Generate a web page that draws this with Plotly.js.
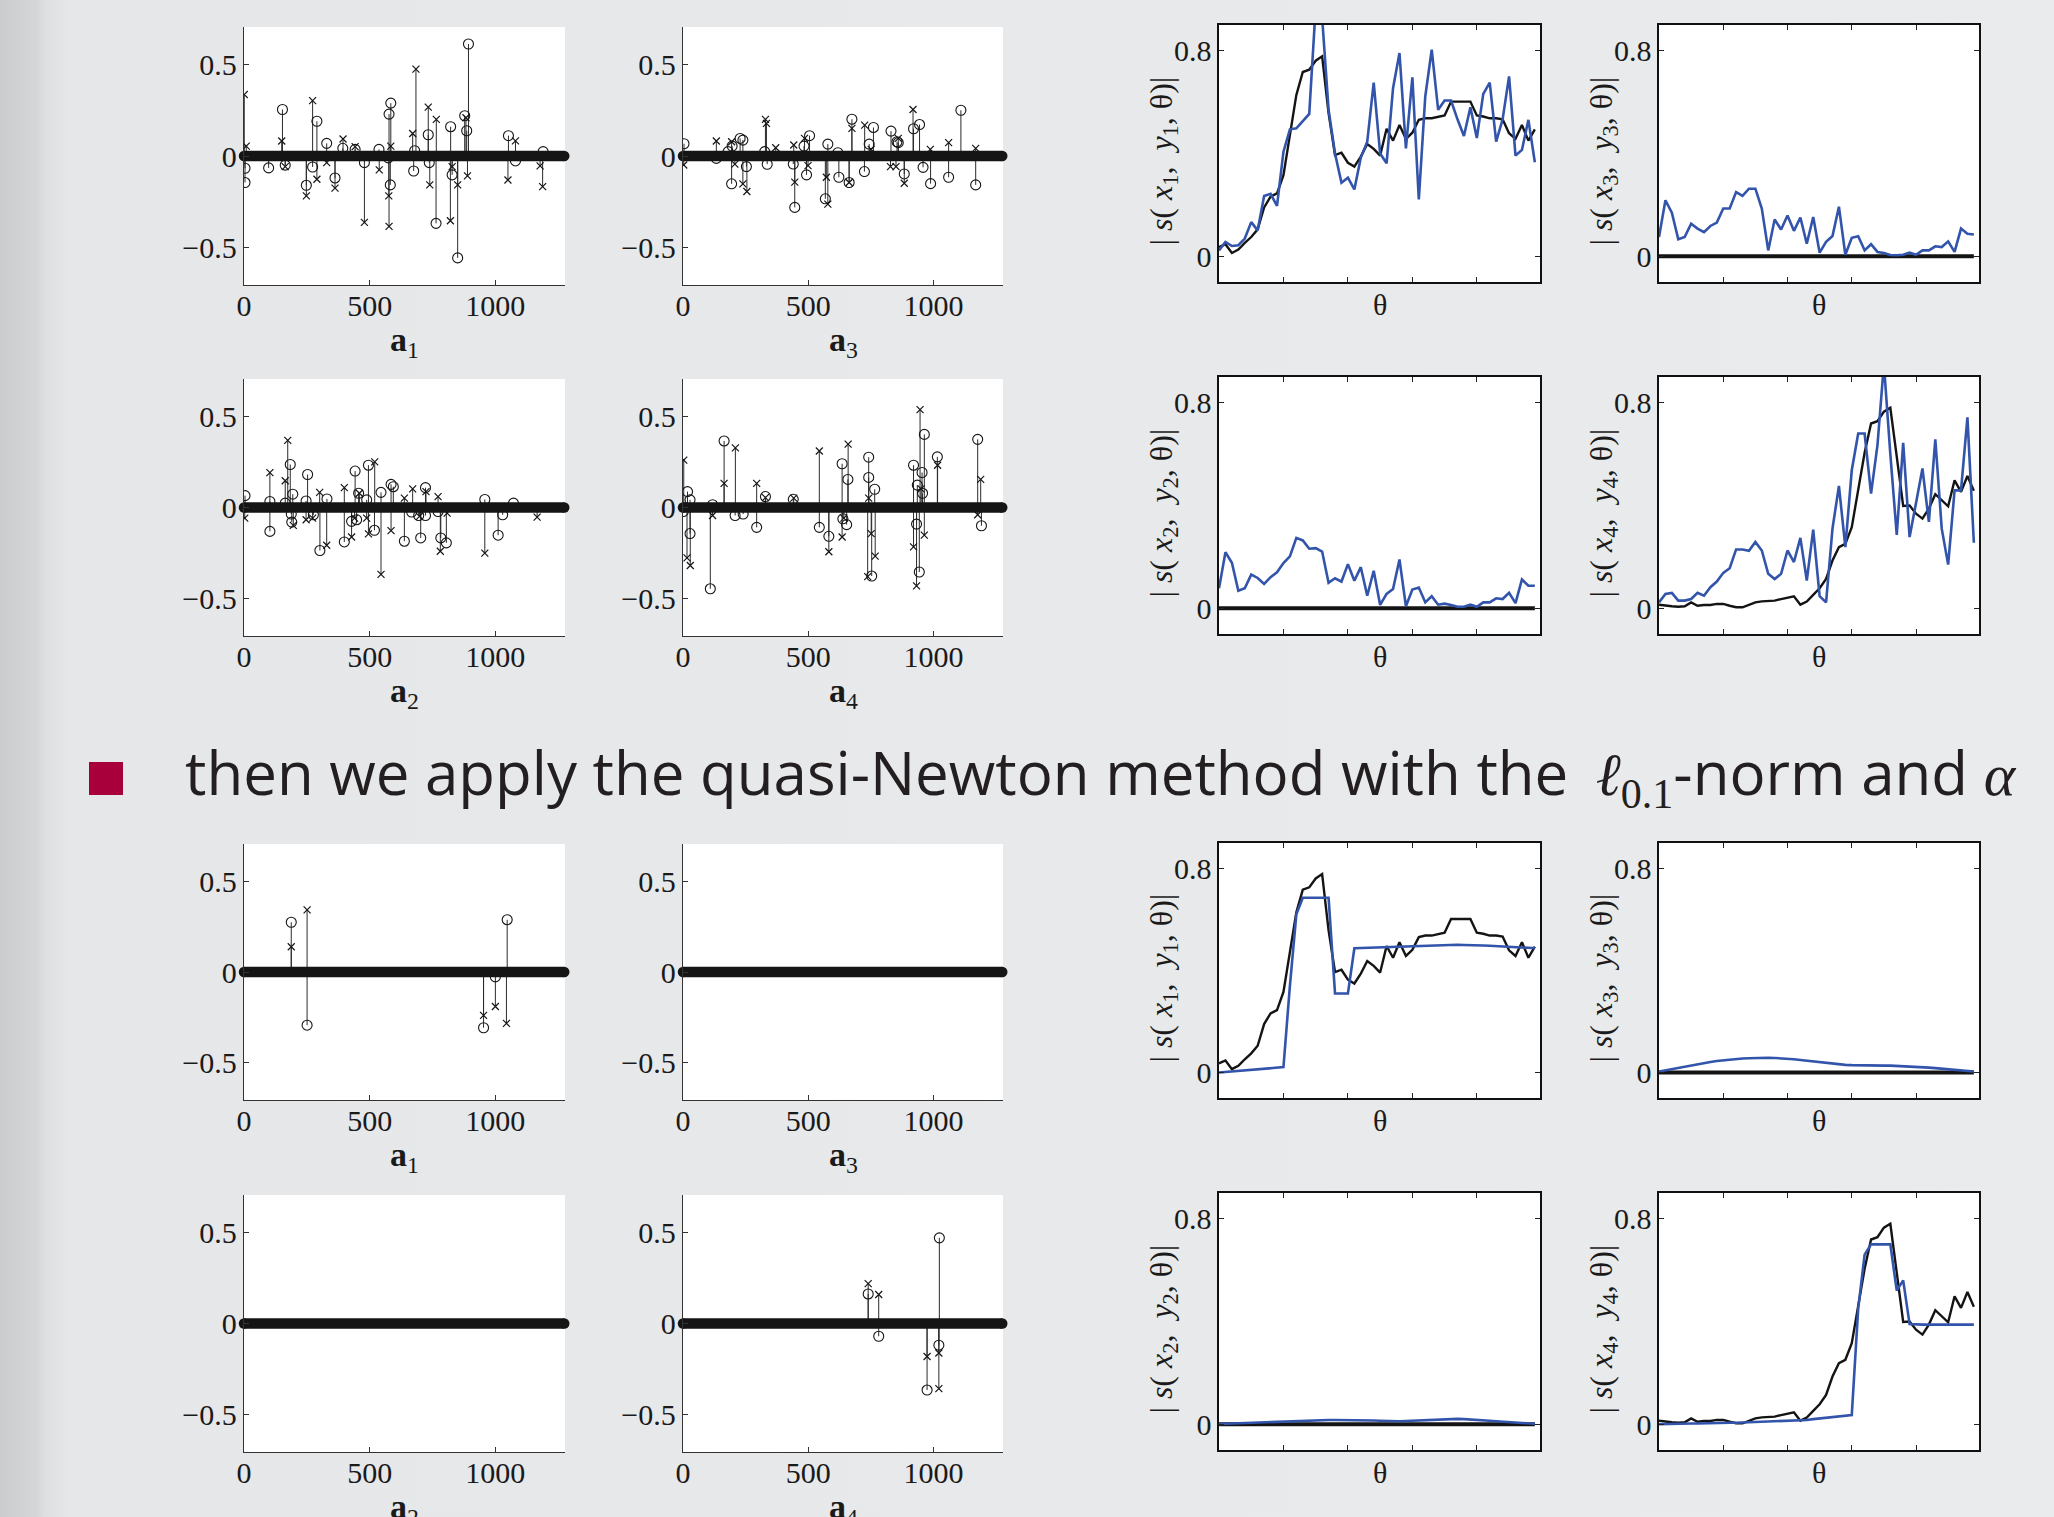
<!DOCTYPE html>
<html><head><meta charset="utf-8">
<script src="https://cdn.plot.ly/plotly-3.0.1.min.js"></script>
<style>
html,body{margin:0;padding:0;width:2054px;height:1517px;overflow:hidden;}
body{background:linear-gradient(to right,#cbccce 0px,#d5d6d8 36px,#dedfe1 45px,#e6e7e9 70px,#eaebed 100%);}
#chart{width:2054px;height:1517px;}
</style></head><body><div id="chart"></div>
<script>
// ---------------- DATA ----------------
// coefficient vector index extent (all entries not listed are zero)
const signalFirst = 0, signalLast = 1274;
const signalTicks = [0, 500, 1000];
const signalTickText = ['0', '500', '1000'];
const ampTicks = [-0.5, 0, 0.5];
const ampTickText = ['\u22120.5', '0', '0.5'];
const simTicks = [0, 0.8];
const simTickText = ['0', '0.8'];
const thetaTicks = [10, 20, 30, 40];

// --- before: a1 ---
const a1BeforeOIdx = [4,4,98,153,164,248,273,290,329,362,393,442,479,537,574,577,584,582,675,679,733,737,764,822,828,850,878,886,893,1052,1080,1190];
const a1BeforeOVal = [-0.067,-0.145,-0.065,0.254,-0.05,-0.16,-0.06,0.19,0.069,-0.12,0.042,0.036,-0.036,0.036,-0.01,0.229,0.289,-0.158,-0.082,0.029,0.116,-0.036,-0.368,0.16,-0.103,-0.557,0.22,0.138,0.612,0.111,-0.027,0.024];
const a1BeforeXIdx = [1,9,150,164,248,273,290,329,362,394,442,479,538,576,577,584,671,684,733,739,765,821,828,850,883,889,1050,1080,1178,1188];
const a1BeforeXVal = [0.336,0.054,0.082,-0.058,-0.218,0.303,-0.127,-0.036,-0.176,0.093,0.051,-0.363,-0.076,-0.218,-0.385,0.054,0.123,0.475,0.267,-0.158,0.2,-0.354,-0.058,-0.158,0.209,-0.109,-0.131,0.083,-0.054,-0.167];
// --- before: a3 ---
const a3BeforeOIdx = [4,133,180,196,228,239,194,253,326,336,440,446,483,505,493,578,568,618,622,663,674,724,743,760,830,854,859,883,920,944,958,988,1060,1109,1168];
const a3BeforeOVal = [0.067,-0.013,0.024,0.054,0.096,0.087,-0.152,-0.058,0.024,-0.045,-0.044,-0.281,0.054,0.111,-0.103,0.065,-0.234,0.018,-0.116,-0.145,0.201,-0.085,0.065,0.156,0.136,0.078,0.073,-0.098,0.149,0.172,-0.062,-0.151,-0.116,0.25,-0.158];
const a3BeforeXIdx = [3,133,194,207,239,255,329,333,370,442,446,485,499,572,578,663,674,725,751,828,850,859,883,918,987,1060,1168];
const a3BeforeXVal = [-0.049,0.082,0.078,-0.044,-0.152,-0.194,0.2,0.178,0.045,0.06,-0.143,0.096,-0.053,-0.116,-0.263,-0.145,0.151,0.169,0.036,-0.058,-0.058,0.096,-0.149,0.254,0.036,0.073,0.042];
// --- before: a2 ---
const a2BeforeOIdx = [4,103,103,164,184,194,190,188,253,247,276,302,330,399,428,442,448,456,488,495,519,545,585,594,638,667,695,703,722,722,772,783,805,958,1011,1029,1072];
const a2BeforeOVal = [0.065,0.033,-0.131,0.024,0.236,0.073,-0.08,-0.036,0.181,0.036,-0.04,-0.236,0.047,-0.189,-0.076,0.2,-0.067,0.078,0.042,0.232,-0.125,0.083,0.127,0.114,-0.185,-0.025,-0.044,-0.167,-0.044,0.109,-0.022,-0.167,-0.194,0.044,-0.152,-0.04,0.024];
const a2BeforeXIdx = [3,103,164,174,196,247,273,301,329,399,428,440,459,488,495,520,545,585,638,671,698,724,772,781,808,958,1166];
const a2BeforeXVal = [-0.058,0.191,0.147,0.368,-0.098,-0.067,-0.058,0.083,-0.207,0.109,-0.162,-0.058,0.078,-0.058,-0.145,0.25,-0.367,-0.127,0.051,0.102,-0.049,0.087,0.06,-0.24,-0.031,-0.25,-0.053];
// --- before: a4 ---
const a4BeforeOIdx = [1,18,28,28,109,118,164,208,240,294,329,440,544,582,635,638,653,658,741,741,753,765,920,932,935,943,954,956,963,1015,1176,1191];
const a4BeforeOVal = [-0.022,0.087,0.042,-0.143,-0.446,0.015,0.365,-0.044,-0.036,-0.109,0.06,0.045,-0.109,-0.158,0.24,-0.062,-0.094,0.154,0.276,0.165,-0.376,0.1,0.232,-0.091,0.123,-0.354,0.192,0.078,0.401,0.278,0.374,-0.1];
const a4BeforeXIdx = [3,16,29,118,164,209,294,329,442,544,582,635,642,659,737,741,751,767,920,932,946,950,963,1016,1176,1188];
const a4BeforeXVal = [0.26,-0.276,-0.318,-0.044,0.132,0.327,0.132,0.054,0.051,0.31,-0.243,-0.162,-0.058,0.348,-0.379,0.051,-0.143,-0.267,-0.216,-0.43,0.537,0.102,-0.152,0.232,-0.04,0.154];
// --- after (quasi-Newton, l0.1) ---
const a1AfterOIdx = [188,251,953,1000,1047];
const a1AfterOVal = [0.274,-0.293,-0.307,-0.027,0.288];
const a1AfterXIdx = [188,251,953,1000,1044];
const a1AfterXVal = [0.139,0.342,-0.239,-0.19,-0.283];
const a2AfterOIdx = [], a2AfterOVal = [], a2AfterXIdx = [], a2AfterXVal = [];
const a3AfterOIdx = [], a3AfterOVal = [], a3AfterXIdx = [], a3AfterXVal = [];
const a4AfterOIdx = [739,781,974,1021,1023];
const a4AfterOVal = [0.162,-0.07,-0.365,-0.119,0.47];
const a4AfterXIdx = [739,781,974,1021,1021];
const a4AfterXVal = [0.219,0.159,-0.181,-0.162,-0.357];

// --- similarity curves over theta ---
const thetaIdx = [0,1,2,3,4,5,6,7,8,9,10,11,12,13,14,15,16,17,18,19,20,21,22,23,24,25,26,27,28,29,30,31,32,33,34,35,36,37,38,39,40,41,42,43,44,45,46,47,48,49];
const source1 = [0.036,0.047,0.013,0.026,0.052,0.075,0.105,0.19,0.232,0.245,0.316,0.479,0.628,0.717,0.726,0.761,0.778,0.557,0.394,0.403,0.364,0.349,0.388,0.437,0.418,0.392,0.496,0.45,0.511,0.457,0.481,0.531,0.537,0.537,0.544,0.548,0.602,0.602,0.602,0.602,0.548,0.544,0.537,0.537,0.533,0.479,0.457,0.511,0.45,0.494];
const source4 = [0.014,0.01,0.008,0.006,0.008,0.023,0.01,0.013,0.013,0.017,0.017,0.01,0.004,0.004,0.014,0.023,0.027,0.029,0.03,0.036,0.042,0.047,0.014,0.026,0.052,0.078,0.114,0.186,0.238,0.251,0.316,0.463,0.605,0.719,0.728,0.765,0.78,0.59,0.398,0.4,0.368,0.349,0.388,0.444,0.42,0.397,0.498,0.453,0.515,0.457];
const sourceZero = [0,0,0,0,0,0,0,0,0,0,0,0,0,0,0,0,0,0,0,0,0,0,0,0,0,0,0,0,0,0,0,0,0,0,0,0,0,0,0,0,0,0,0,0,0,0,0,0,0,0];
const est1Before = [0.023,0.056,0.04,0.043,0.069,0.133,0.101,0.235,0.243,0.196,0.407,0.494,0.498,0.524,0.554,0.97,0.93,0.57,0.40,0.286,0.306,0.26,0.384,0.446,0.676,0.40,0.362,0.654,0.791,0.42,0.696,0.221,0.622,0.804,0.57,0.606,0.606,0.533,0.468,0.58,0.46,0.632,0.676,0.446,0.533,0.70,0.392,0.414,0.531,0.366];
const est2Before = [0.078,0.218,0.177,0.068,0.078,0.131,0.118,0.095,0.121,0.14,0.176,0.202,0.274,0.264,0.232,0.234,0.221,0.099,0.117,0.104,0.172,0.107,0.16,0.049,0.146,0.013,0.056,0.075,0.19,0.008,0.073,0.081,0.023,0.047,0.014,0.018,0.013,0.006,0.006,0.014,0.006,0.023,0.023,0.039,0.036,0.06,0.02,0.112,0.088,0.088];
const est3Before = [0.075,0.218,0.170,0.066,0.075,0.127,0.108,0.094,0.118,0.131,0.186,0.186,0.250,0.235,0.263,0.263,0.186,0.023,0.143,0.104,0.159,0.099,0.151,0.049,0.153,0.014,0.056,0.079,0.193,0.006,0.072,0.078,0.023,0.047,0.017,0.013,0.005,0.004,0.006,0.014,0.006,0.023,0.023,0.039,0.036,0.058,0.017,0.108,0.088,0.085];
const est4Before = [0.023,0.056,0.06,0.03,0.03,0.036,0.06,0.049,0.082,0.104,0.138,0.156,0.229,0.229,0.224,0.258,0.225,0.134,0.114,0.134,0.225,0.18,0.274,0.108,0.306,0.047,0.023,0.31,0.476,0.238,0.537,0.68,0.68,0.446,0.635,0.95,0.6,0.286,0.644,0.277,0.41,0.544,0.336,0.657,0.31,0.17,0.459,0.459,0.743,0.255];
const est1After = [0.000,0.002,0.004,0.006,0.008,0.010,0.012,0.014,0.016,0.018,0.021,0.34,0.62,0.685,0.685,0.685,0.685,0.685,0.31,0.31,0.31,0.487,0.488,0.489,0.49,0.491,0.492,0.493,0.494,0.495,0.496,0.497,0.498,0.499,0.5,0.5,0.501,0.501,0.5,0.5,0.499,0.498,0.497,0.496,0.495,0.493,0.492,0.49,0.489,0.487];
const est2After = [0.001,0.002,0.003,0.004,0.005,0.006,0.008,0.009,0.011,0.012,0.013,0.014,0.015,0.016,0.016,0.017,0.017,0.017,0.017,0.017,0.017,0.017,0.016,0.016,0.015,0.014,0.013,0.012,0.012,0.013,0.014,0.016,0.018,0.019,0.02,0.021,0.021,0.021,0.02,0.019,0.018,0.016,0.014,0.012,0.01,0.008,0.006,0.004,0.003,0.002];
const est3After = [0.004,0.009,0.014,0.019,0.024,0.029,0.033,0.037,0.041,0.045,0.048,0.051,0.053,0.055,0.056,0.057,0.058,0.058,0.057,0.056,0.054,0.052,0.049,0.046,0.043,0.04,0.037,0.034,0.032,0.03,0.029,0.028,0.028,0.027,0.027,0.027,0.027,0.026,0.025,0.024,0.023,0.021,0.019,0.017,0.015,0.013,0.011,0.008,0.006,0.004];
const est4After = [0.0,0.001,0.001,0.002,0.002,0.003,0.003,0.004,0.004,0.005,0.005,0.006,0.006,0.007,0.007,0.008,0.008,0.009,0.01,0.011,0.012,0.013,0.014,0.017,0.02,0.023,0.026,0.029,0.032,0.034,0.036,0.45,0.66,0.70,0.70,0.70,0.70,0.52,0.56,0.39,0.388,0.388,0.388,0.388,0.388,0.388,0.388,0.388,0.388,0.388];

const sentenceMain = 'then we apply the quasi-Newton method with the ';
const sentenceTail = '-norm and ';

// ---------------- LAYOUT ----------------
const W = 2054, H = 1517;
const colPx = [[244,565],[683,1003],[1219,1540],[1659,1979]];
const rowPxL = [[27,285],[379,636],[844,1100],[1195,1452]];
const rowPxR = [[25,282],[377,634],[843,1098],[1193,1450]];
const serif = 'Liberation Serif, Times New Roman, serif';
const ink = '#1a1a1a';

const leftX = {range:[0,1277], tickvals:signalTicks, ticktext:signalTickText, ticks:'inside', ticklen:5, tickwidth:1, tickcolor:'#333',
  showline:true, linecolor:'#333', linewidth:1.3, mirror:false, showgrid:false, zeroline:false, ticklabelstandoff:-6,
  tickfont:{family:serif, size:30, color:ink}, fixedrange:true};
const leftY = {range:[-0.705,0.705], tickvals:ampTicks, ticktext:ampTickText, ticks:'inside', ticklen:5, tickwidth:1, tickcolor:'#333',
  showline:true, linecolor:'#333', linewidth:1.3, mirror:false, showgrid:false, zeroline:false,
  tickfont:{family:serif, size:30, color:ink}, fixedrange:true};
const rightX = {range:[0,49.8], tickvals:thetaTicks, showticklabels:false, ticks:'inside', ticklen:5, tickwidth:1, tickcolor:'#222',
  showline:true, linecolor:'#111', linewidth:1.6, mirror:'ticks', showgrid:false, zeroline:false, fixedrange:true};
const rightY = {range:[-0.1,0.9], tickvals:simTicks, ticktext:simTickText, ticks:'inside', ticklen:5, tickwidth:1, tickcolor:'#222',
  showline:true, linecolor:'#111', linewidth:1.6, mirror:'ticks', showgrid:false, zeroline:false,
  tickfont:{family:serif, size:30, color:ink}, fixedrange:true};

const traces = [];
const layout = {width:W, height:H, margin:{l:0,r:0,t:0,b:0}, paper_bgcolor:'rgba(0,0,0,0)', plot_bgcolor:'#ffffff',
  showlegend:false, annotations:[], shapes:[]};
let axN = 0;
function addAxes(col,row,isRight){
  axN++; const id = axN===1?'':String(axN);
  const rp = isRight?rowPxR:rowPxL;
  layout['xaxis'+id] = Object.assign({}, isRight?rightX:leftX, {domain:[colPx[col][0]/W, colPx[col][1]/W], anchor:'y'+id});
  layout['yaxis'+id] = Object.assign({}, isRight?rightY:leftY, {domain:[1-rp[row][1]/H, 1-rp[row][0]/H], anchor:'x'+id});
  return {x:'x'+id, y:'y'+id};
}
function addStem(col,row,sub,oIdx,oVal,xIdx,xVal){
  const ax = addAxes(col,row,false);
  const sx=[], sy=[];
  [[oIdx,oVal],[xIdx,xVal]].forEach(([I,V])=>I.forEach((k,j)=>{sx.push(k,k,null); sy.push(0,V[j],null);}));
  traces.push({type:'scatter', mode:'lines', x:sx, y:sy, xaxis:ax.x, yaxis:ax.y, line:{color:'#2b2b2b', width:1}, hoverinfo:'skip'});
  traces.push({type:'scatter', mode:'markers', x:oIdx, y:oVal, xaxis:ax.x, yaxis:ax.y,
    marker:{symbol:'circle-open', size:10, color:'#151515', line:{width:1.1}}, hoverinfo:'skip'});
  traces.push({type:'scatter', mode:'markers', x:xIdx, y:xVal, xaxis:ax.x, yaxis:ax.y,
    marker:{symbol:'x-thin-open', size:7, color:'#151515', line:{width:1.2}}, hoverinfo:'skip'});
  traces.push({type:'scatter', mode:'lines+markers', x:[signalFirst, signalLast], y:[0,0], xaxis:ax.x, yaxis:ax.y,
    line:{color:'#151515', width:10.5}, marker:{size:10.5, color:'#151515'}, cliponaxis:false, hoverinfo:'skip'});
  layout.annotations.push({text:'<b>a</b><sub>'+sub+'</sub>', xref:'paper', yref:'paper', showarrow:false,
    x:(colPx[col][0]+colPx[col][1])/2/W, y:1-(rowPxL[row][1]+57)/H, xanchor:'center', yanchor:'middle',
    font:{family:serif, size:34, color:ink}});
}
function addCurve(col,row,k,blackVals,blueVals,blackWidth){
  const ax = addAxes(col,row,true);
  traces.push({type:'scatter', mode:'lines', x:thetaIdx, y:blackVals, xaxis:ax.x, yaxis:ax.y, line:{color:'#141414', width:blackWidth}, hoverinfo:'skip'});
  traces.push({type:'scatter', mode:'lines', x:thetaIdx, y:blueVals, xaxis:ax.x, yaxis:ax.y, line:{color:'#3354ab', width:2.6}, hoverinfo:'skip'});
  const cx = (colPx[col][0]+colPx[col][1])/2/W;
  layout.annotations.push({text:'\u03b8', xref:'paper', yref:'paper', showarrow:false, x:cx, y:1-(rowPxR[row][1]+22)/H,
    xanchor:'center', yanchor:'middle', font:{family:serif, size:30, color:ink}});
  layout.annotations.push({text:'| <i>s</i>(\u00a0<i>x</i><sub>'+k+'</sub>,\u00a0\u00a0<i>y</i><sub>'+k+'</sub>,\u00a0\u03b8)|', xref:'paper', yref:'paper', showarrow:false,
    x:(colPx[col][0]-56)/W, y:1-((rowPxR[row][0]+rowPxR[row][1])/2+8)/H, textangle:-90,
    xanchor:'center', yanchor:'middle', font:{family:serif, size:32, color:ink}});
}

// top block (before)
addStem(0,0,'1',a1BeforeOIdx,a1BeforeOVal,a1BeforeXIdx,a1BeforeXVal);
addStem(1,0,'3',a3BeforeOIdx,a3BeforeOVal,a3BeforeXIdx,a3BeforeXVal);
addStem(0,1,'2',a2BeforeOIdx,a2BeforeOVal,a2BeforeXIdx,a2BeforeXVal);
addStem(1,1,'4',a4BeforeOIdx,a4BeforeOVal,a4BeforeXIdx,a4BeforeXVal);
addCurve(2,0,'1',source1,est1Before,2.4);
addCurve(3,0,'3',sourceZero,est3Before,4);
addCurve(2,1,'2',sourceZero,est2Before,4);
addCurve(3,1,'4',source4,est4Before,2.4);
// bottom block (after)
addStem(0,2,'1',a1AfterOIdx,a1AfterOVal,a1AfterXIdx,a1AfterXVal);
addStem(1,2,'3',a3AfterOIdx,a3AfterOVal,a3AfterXIdx,a3AfterXVal);
addStem(0,3,'2',a2AfterOIdx,a2AfterOVal,a2AfterXIdx,a2AfterXVal);
addStem(1,3,'4',a4AfterOIdx,a4AfterOVal,a4AfterXIdx,a4AfterXVal);
addCurve(2,2,'1',source1,est1After,2.4);
addCurve(3,2,'3',sourceZero,est3After,4);
addCurve(2,3,'2',sourceZero,est2After,4);
addCurve(3,3,'4',source4,est4After,2.4);

// bullet + sentence
layout.shapes.push({type:'rect', xref:'paper', yref:'paper', x0:89/W, x1:123/W, y0:1-795/H, y1:1-762/H, fillcolor:'#a8003b', line:{width:0}});
layout.annotations.push({xref:'paper', yref:'paper', showarrow:false, x:183/W, y:1-774/H, xanchor:'left', yanchor:'middle',
  text: sentenceMain + '<span style="font-family:Liberation Serif">\u2009<i>\u2113</i><sub>0.1</sub></span>' + sentenceTail + '<span style="font-family:Liberation Serif"><i>\u03b1</i></span>',
  font:{family:'Open Sans, Noto Sans, sans-serif', size:60, color:'#231f20'}});

Plotly.newPlot('chart', traces, layout, {staticPlot:true, displayModeBar:false});
</script>
</body></html>
